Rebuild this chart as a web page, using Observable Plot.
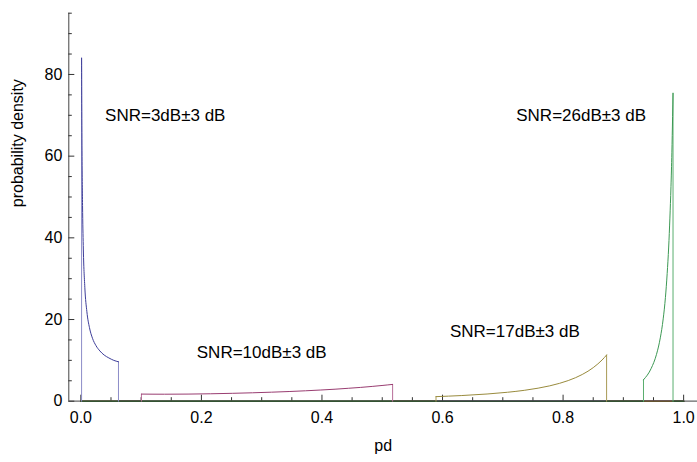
<!DOCTYPE html>
<html><head><meta charset="utf-8">
<script src="https://cdn.jsdelivr.net/npm/d3@7"></script>
<script src="https://cdn.jsdelivr.net/npm/@observablehq/plot@0.6"></script>
<style>
html,body{margin:0;padding:0;background:#fff;}
#chart svg{display:block;}
</style></head><body><div id="chart"></div>
<script>
// ---- data ----
const seriesNames = ["SNR=3dB±3 dB", "SNR=10dB±3 dB", "SNR=17dB±3 dB", "SNR=26dB±3 dB"];

const snr3Pd      = [0.00122, 0.00139, 0.00187, 0.00280, 0.00398, 0.00658, 0.0100, 0.0143, 0.0193, 0.0251, 0.0316, 0.0387, 0.0464, 0.0546, 0.0624];
const snr3Density = [84.0, 77.1, 62.7, 47.9, 38.1, 27.9, 21.9, 18.0, 15.4, 13.6, 12.3, 11.3, 10.6, 10.0, 9.65];

const snr10Pd      = [0.1005, 0.1390, 0.1778, 0.2154, 0.2512, 0.2848, 0.3162, 0.3455, 0.3728, 0.3981, 0.4217, 0.4437, 0.4642, 0.4833, 0.5012, 0.5172];
const snr10Density = [1.74, 1.71, 1.74, 1.82, 1.93, 2.06, 2.21, 2.37, 2.55, 2.74, 2.94, 3.16, 3.38, 3.62, 3.87, 4.11];

const snr17Pd      = [0.5892, 0.6310, 0.6739, 0.7079, 0.7356, 0.7586, 0.7779, 0.7943, 0.8085, 0.8209, 0.8318, 0.8414, 0.8500, 0.8577, 0.8647, 0.8722];
const snr17Density = [1.12, 1.38, 1.76, 2.19, 2.66, 3.19, 3.76, 4.38, 5.05, 5.77, 6.54, 7.35, 8.22, 9.13, 10.09, 11.31];

const snr26Pd      = [0.9334, 0.9462, 0.9550, 0.9613, 0.9661, 0.9698, 0.9727, 0.9752, 0.9772, 0.9790, 0.9805, 0.9817, 0.9824];
const snr26Density = [5.24, 8.04, 11.47, 15.51, 20.16, 25.41, 31.28, 37.75, 44.83, 52.52, 60.82, 69.72, 75.4];

const plotRangeX = [0, 1];            // range over which each function is plotted
const xDomain = [-0.02, 1.023];
const yDomain = [0, 95];

const xTicksMajor = [0, 0.2, 0.4, 0.6, 0.8, 1.0];
const xTicksMinor = [0.05, 0.1, 0.15, 0.25, 0.3, 0.35, 0.45, 0.5, 0.55, 0.65, 0.7, 0.75, 0.85, 0.9, 0.95];
const yTicksMajor = [0, 20, 40, 60, 80];
const yTicksMinor = [5, 10, 15, 25, 30, 35, 45, 50, 55, 65, 70, 75, 85, 90, 95];

const labelX = [0.14, 0.30, 0.72, 0.83];
const labelY = [70, 12, 17, 70];

const colors     = ["#3D3D99", "#993D71", "#998B3D", "#3D9954"];
const edgeColors = ["#8C8CC8", "#B86E98", "#A89A55", "#5AAE6E"];
const zeroColors = ["#2E2E66", "#66294C", "#665C29", "#2C5233"];

// ---- build tables ----
const pdArrays = [snr3Pd, snr10Pd, snr17Pd, snr26Pd];
const densArrays = [snr3Density, snr10Density, snr17Density, snr26Density];

const curves = [], edges = [], zeros = [];
pdArrays.forEach((pd, s) => {
  const dens = densArrays[s];
  pd.forEach((x, i) => curves.push({s, x, y: dens[i]}));
  const n = pd.length - 1;
  edges.push({s, k: s*2, x: pd[0], y: 0}, {s, k: s*2, x: pd[0], y: dens[0]});
  edges.push({s, k: s*2+1, x: pd[n], y: dens[n]}, {s, k: s*2+1, x: pd[n], y: 0});
  zeros.push({s, k: s*2, x: plotRangeX[0], y: 0}, {s, k: s*2, x: pd[0], y: 0});
  zeros.push({s, k: s*2+1, x: pd[n], y: 0}, {s, k: s*2+1, x: plotRangeX[1], y: 0});
});
const labels = seriesNames.map((t, i) => ({t, x: labelX[i], y: labelY[i]}));

const W = 697, H = 462, mL = 68.3, mR = 0, mT = 12.7, mB = 61.3;
const frameW = W - mL - mR, frameH = H - mT - mB;
const axisColor = "#666";

const chart = Plot.plot({
  width: W, height: H,
  marginLeft: mL, marginRight: mR, marginTop: mT, marginBottom: mB,
  style: {fontFamily: "'Liberation Sans', Arial, sans-serif", fontSize: "16px", background: "#fff", color: "#000"},
  x: {domain: xDomain},
  y: {domain: yDomain},
  marks: [
    Plot.ruleY([0], {stroke: axisColor, strokeWidth: 1.2}),
    Plot.ruleX([xDomain[0]], {stroke: "#444", strokeWidth: 1}),
    // inward ticks
    Plot.ruleX(xTicksMajor, {x: d => d, insetTop: frameH - 6, stroke: "#333"}),
    Plot.ruleX(xTicksMinor, {x: d => d, insetTop: frameH - 3.5, stroke: "#333"}),
    Plot.ruleY(yTicksMajor, {y: d => d, insetRight: frameW - 6, stroke: "#333"}),
    Plot.ruleY(yTicksMinor, {y: d => d, insetRight: frameW - 3.5, stroke: "#333"}),
    // zero parts of each piecewise function
    Plot.line(zeros, {x: "x", y: "y", z: "k", stroke: d => zeroColors[d.s], strokeWidth: 1.6, strokeOpacity: 0.85}),
    // discontinuity edges
    Plot.line(edges, {x: "x", y: "y", z: "k", stroke: d => edgeColors[d.s], strokeWidth: 1}),
    // densities
    Plot.line(curves, {x: "x", y: "y", z: "s", stroke: d => colors[d.s], strokeWidth: 1, curve: "monotone-x"}),
    // axis tick labels
    Plot.axisX(xTicksMajor, {tickSize: 0, tickPadding: 10, tickFormat: d => d.toFixed(1), fontSize: 16, label: null}),
    Plot.axisY(yTicksMajor, {tickSize: 0, tickPadding: 6.5, tickFormat: d => String(d), fontSize: 16, label: null}),
    // annotations
    Plot.text(labels, {x: "x", y: "y", text: "t", fontSize: 17, fill: "#000"}),
    // axis titles
    Plot.text(["pd"], {frameAnchor: "bottom", dy: 50, fontSize: 16, fill: "#000"}),
    Plot.text(["probability density"], {frameAnchor: "left", dx: -51, rotate: -90, fontSize: 16, fill: "#000"})
  ]
});
document.getElementById("chart").appendChild(chart);
</script>
</body></html>
